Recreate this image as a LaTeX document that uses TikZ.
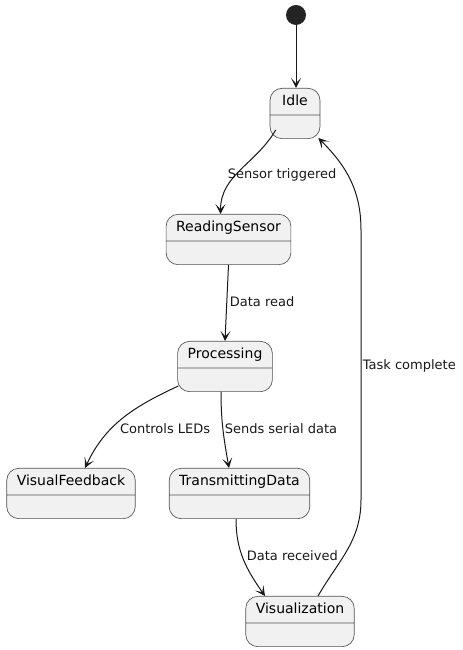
\documentclass[tikz,border=0pt]{standalone}
\usepackage{fontspec}
\setmainfont{DejaVu Sans}
\usetikzlibrary{positioning, arrows.meta, calc, shapes.multipart}

\definecolor{statefill}{HTML}{F1F1F1}
\definecolor{umlline}{HTML}{181818}

\begin{document}
\begin{tikzpicture}[
		x=0.75pt, y=0.75pt,
		>={Stealth[length=7.5pt, width=7.5pt, inset=4pt]},
		state/.style={rectangle split, rectangle split parts=2, anchor=north,
			rectangle split empty part height=8.25pt, rectangle split empty part depth=0pt,
			draw=umlline!75, line width=0.5pt, fill=statefill, rounded corners=9pt,
			font=\fontsize{10.5}{12}\selectfont, text height=8pt, text depth=2.5pt,
			inner xsep=7.5pt, inner ysep=4.5pt, minimum width=37.5pt},
		edge/.style={->, draw=umlline, line width=0.75pt},
		lbl/.style={font=\fontsize{9.75}{11}\selectfont, text=umlline, inner sep=1pt}
		]
		
		% --- page ---
		\useasboundingbox (0,0) rectangle (462,650);
		
		% --- states ---
		\node[circle, fill=umlline!95, minimum size=15pt, inner sep=0pt] (start) at (296,635) {};
		\node[state] (idle) at (295,562) {Idle \nodepart{two}};
		\node[state] (reading) at (228.5,436) {ReadingSensor \nodepart{two}};
		\node[state] (processing) at (225,309) {Processing \nodepart{two}};
		\node[state] (visualfb) at (71,182) {VisualFeedback \nodepart{two}};
		\node[state] (transmitting) at (239.5,182) {TransmittingData \nodepart{two}};
		\node[state] (visualization) at (300,54) {Visualization \nodepart{two}};
		
		% bends of the way back to Idle
		\coordinate (backlow) at (361,150);
		\coordinate (backhigh) at (361,420);
		
		% --- transitions ---
		\draw[edge] (start) -- (start |- idle.north);
		
		\draw[edge] ($(idle.south west)+(6,9)$) to[out=240, in=90] ($(reading.north)+(-8,0)$)
		node[lbl, anchor=west] (lblsensor) at (226,475) {Sensor triggered};
		
		\draw[edge] (reading.south) -- (processing.north)
		node[lbl, anchor=west] (lblread) at (228,348) {Data read};
		
		\draw[edge] ($(processing.south west)+(1,6)$) to[out=205, in=65] ($(visualfb.north)+(14,0)$)
		node[lbl, anchor=east] (lblleds) at (212,221) {Controls LEDs};
		
		\draw[edge] ($(processing.south)+(-4,0)$) to[out=-90, in=100] ($(transmitting.north)+(-10.5,0)$)
		node[lbl, anchor=west] (lblserial) at (223,221) {Sends serial data};
		
		\draw[edge] ($(transmitting.south)+(-3.5,0)$) to[out=-90, in=125] ($(visualization.north)+(-35,0)$)
		node[lbl, anchor=west] (lblreceived) at (245,94) {Data received};
		
		\draw[edge] ($(visualization.north)+(18,0)$) to[out=60, in=-90] (backlow) -- (backhigh)
		to[out=90, in=-45] ($(idle.south east)+(-2,1)$)
		node[lbl, anchor=west] (lbltask) at (361,284) {Task complete};
		
	\end{tikzpicture}
\end{document}
